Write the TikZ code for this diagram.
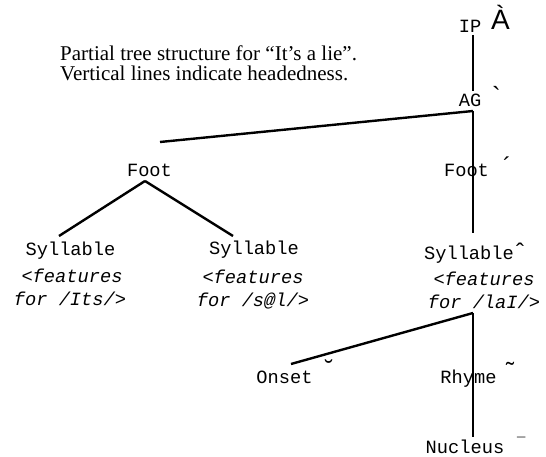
\documentclass[tikz,border=0pt]{standalone}
\usepackage{fontspec}
\setmainfont{Liberation Serif}
\newfontfamily\treemono{Liberation Mono}
\newfontfamily\tagfont{Liberation Sans}
\usetikzlibrary{calc}
\begin{document}
\begin{tikzpicture}[x=1pt,y=-1pt,
  lbl/.style={font=\treemono\fontsize{18.7}{20}\selectfont, inner sep=0pt, anchor=base},
  feat/.style={font=\treemono\itshape\fontsize{18.7}{20}\selectfont, inner sep=0pt, anchor=base},
  capt/.style={font=\fontsize{21}{24}\selectfont, inner sep=0pt, anchor=base west},
  numtag/.style={font=\tagfont\fontsize{28}{30}\selectfont, inner sep=0pt, anchor=north west},
  smalltag/.style={font=\tagfont\fontsize{24}{26}\selectfont, inner sep=0pt, anchor=north west},
  edge/.style={line width=2.4pt, line cap=butt}]
\useasboundingbox (0,0) rectangle (546,457);
\fill[white] (0,0) rectangle (546,457);

% caption
\node[capt] (cap1) at (60,61) {Partial tree structure for “It’s a lie”.};
\node[capt] (cap2) at (60,81) {Vertical lines indicate headedness.};

% head line x position
\coordinate (hx) at (473,0);

% nodes
\node[lbl] (ip) at (470,33) {IP};
\node[numtag] (ipn) at (491,5) {À};
\node[lbl] (ag) at (470,107) {AG};
\node[smalltag, font=\tagfont\fontsize{26}{28}\selectfont] (agn) at (492,86) {\char"60};
\node[lbl] (footL) at (149.5,177) {Foot};
\node[lbl] (footR) at (466.5,177) {Foot};
\node[smalltag] (footRn) at (503,157) {\char"B4};

\node[lbl] (sylA) at (70.5,255) {Syllable};
\node[feat] (sylAf) at (72,282) {<features};
\node[feat] (sylAg) at (70,305) {for /Its/>};

\node[lbl] (sylB) at (254,254) {Syllable};
\node[feat] (sylBf) at (253,283) {<features};
\node[feat] (sylBg) at (253,306) {for /s@l/>};

\node[lbl] (sylC) at (469,259) {Syllable};
\node[smalltag] (sylCn) at (516,243) {\char"02C6};
\node[feat] (sylCf) at (484,285) {<features};
\node[feat] (sylCg) at (484,308) {for /laI/>};

\node[lbl] (onset) at (284.5,383) {Onset};
\node[smalltag] (onsetn) at (325,360) {\char"02D8};
\node[lbl] (rhyme) at (468.5,383) {Rhyme};
\node[smalltag] (rhymen) at (506,362) {\char"02DC};
\node[lbl] (nucleus) at (465,453) {Nucleus};
\node[smalltag, font=\tagfont\fontsize{15}{16}\selectfont] (nucleusn) at (517,437) {\char"AF};

% connectors
\draw[edge] ($(ip.base -| hx)+(0,2)$) -- ($(ag.base -| hx)+(0,-16)$);
\draw[edge] ($(ag.base -| hx)+(0,4)$) -- ($(sylC.base -| hx)+(0,-26)$);
\draw[edge] ($(ag.base -| hx)+(0,4)$) -- ($(footL.base)+(10.5,-35)$);
\draw[edge] ($(footL.base)+(-4.5,4)$) -- ($(sylA.base)+(-11.5,-19)$);
\draw[edge] ($(footL.base)+(-4.5,4)$) -- ($(sylB.base)+(-21,-18)$);
\draw[edge] ($(sylCg.base -| hx)+(0,5)$) -- ($(onset.base)+(6.5,-19)$);
\draw[edge] ($(sylCg.base -| hx)+(0,5)$) -- ($(nucleus.base -| hx)+(0,-16)$);
\end{tikzpicture}
\end{document}
